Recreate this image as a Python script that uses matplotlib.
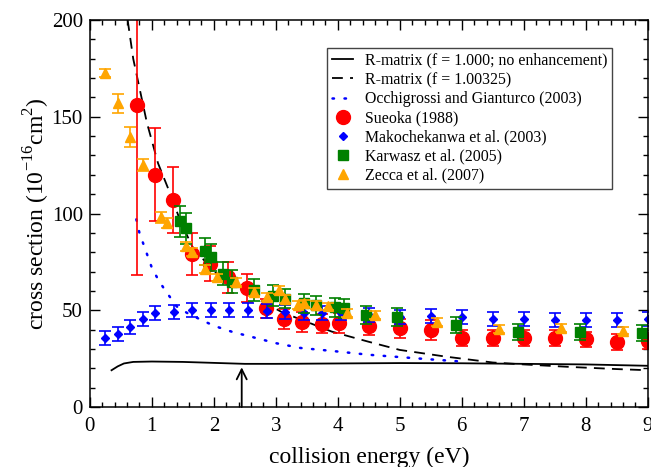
import numpy as np
import matplotlib
matplotlib.use('Agg')
import matplotlib.pyplot as plt
from matplotlib.ticker import MultipleLocator

plt.rcParams['font.family'] = ['Liberation Serif', 'DejaVu Serif']
plt.rcParams['mathtext.fontset'] = 'custom'
plt.rcParams['mathtext.rm'] = 'Liberation Serif'

# R-matrix, f = 1.000 (solid)
rm1_x = [0.35, 0.45, 0.55, 0.7, 1.0, 1.5, 2.0, 2.5, 3.0, 4.0, 5.0, 6.0, 7.0, 8.0, 9.0]
rm1_y = [19.0, 21.0, 22.5, 23.3, 23.5, 23.3, 22.8, 22.3, 22.3, 22.5, 22.7, 22.6, 22.3, 22.0, 21.3]

# R-matrix, f = 1.00325 (dashed)
rm2_x = [0.61, 0.7, 0.8, 0.92, 1.1, 1.3, 1.45, 1.65, 2.0, 2.4, 2.7, 3.1, 3.5, 3.9, 4.5,
         5.0, 5.75, 6.5, 7.0, 7.75, 8.5, 9.0]
rm2_y = [200, 180, 165, 147, 126, 110, 97, 83, 70, 62, 56, 49, 44, 39, 33.7,
         29.5, 26, 23, 22, 20.7, 19.6, 19]

# Occhigrossi and Gianturco (dotted)
og_x = [0.75, 0.8, 0.9, 1.0, 1.1, 1.2, 1.3, 1.4, 1.6, 1.8, 2.0, 2.3, 2.7, 3.0, 3.4,
        3.9, 4.5, 5.0, 5.5, 6.0]
og_y = [97, 90, 81, 72, 66, 61, 56.5, 52, 48, 45, 42, 38.8, 35.5, 33, 30.5,
        29, 27, 25.8, 24.6, 23.5]

# Sueoka (1988)
su_x = [0.76, 1.05, 1.34, 1.64, 1.94, 2.23, 2.53, 2.84, 3.13, 3.43, 3.74, 4.02,
        4.5, 5.0, 5.5, 6.0, 6.5, 7.0, 7.5, 8.0, 8.5, 9.0]
su_y = [156, 120, 107, 79, 74, 67, 61.5, 51, 45.5, 44, 43, 43.5,
        42, 40.7, 39.8, 35.7, 35.7, 35.7, 35.7, 35, 33.7, 34]
su_e = [88, 24, 17, 11, 9, 8, 7, 5, 5, 5, 5, 5,
        5, 5, 5, 4, 4, 4, 4, 4, 4, 4]

# Makochekanwa et al. (2003)
mk_x = [0.25, 0.45, 0.65, 0.85, 1.05, 1.35, 1.65, 1.95, 2.25, 2.55, 2.85, 3.15, 3.45,
        3.75, 4.05, 4.5, 5.0, 5.5, 6.0, 6.5, 7.0, 7.5, 8.0, 8.5, 9.0]
mk_y = [35.7, 37.7, 41.4, 45.5, 48.5, 49, 50, 50, 50, 50, 49.7, 49, 48.5,
        48.5, 48.5, 47.5, 46.5, 47, 46.5, 45.5, 45.5, 45, 45, 45, 45.5]
mk_e = [3.5] * len(mk_x)

# Karwasz et al. (2005)
kw_x = [1.45, 1.55, 1.85, 1.95, 2.15, 2.3, 2.65, 2.95, 3.15, 3.45, 3.65, 3.95, 4.1,
        4.45, 4.95, 5.9, 6.9, 7.9, 8.9]
kw_y = [96, 92.5, 80.5, 77.5, 69, 64.8, 60.5, 57.5, 56, 53.5, 52.5, 51.5, 51,
        47.5, 46.5, 42.5, 38.8, 38.8, 38.2]
kw_e = [8, 8, 7, 7, 6, 6, 5.5, 5.5, 5, 5, 5, 5, 5,
        4.5, 4.5, 4, 4, 4, 4]

# Zecca et al. (2007)
zc_x = [0.25, 0.45, 0.65, 0.85, 1.15, 1.25, 1.55, 1.65, 1.85, 2.05, 2.35, 2.65, 2.85,
        3.05, 3.15, 3.35, 3.45, 3.65, 3.85, 4.15, 4.6, 5.6, 6.6, 7.6, 8.6]
zc_y = [172.6, 157, 139.5, 125, 98, 95, 83, 80, 71.5, 67, 64.6, 59.5, 57,
        60.5, 56, 52.7, 53.5, 52.7, 52, 48.5, 47.5, 44, 40.5, 41, 39.5]
zc_e = [2, 5, 5, 3, 3, 2.5, 2.5, 2, 2, 2, 2, 2, 2,
        2, 2, 2, 2, 2, 2, 2, 2, 2, 2, 2, 2]

arrow_x = 2.45
arrow_top = 20.5

fig = plt.figure(figsize=(6.51, 4.67), dpi=100)
ax = fig.add_axes([0.138, 0.1285, 0.857, 0.8285])

ax.plot(rm1_x, rm1_y, '-', color='black', lw=1.3, label='R-matrix (f = 1.000; no enhancement)')
ax.plot(rm2_x, rm2_y, '--', color='black', lw=1.3, dashes=(6, 4), label='R-matrix (f = 1.00325)')
ax.plot(og_x, og_y, color='blue', lw=1.8, dashes=(0.6, 4.2), dash_capstyle='round',
        label='Occhigrossi and Gianturco (2003)')

ekw = dict(fmt='none', elinewidth=1.2, capthick=1.2, capsize=4.5)
ax.errorbar(su_x, su_y, yerr=su_e, ecolor='red', **ekw)
ax.plot(su_x, su_y, 'o', color='red', ms=10, ls='none', label='Sueoka (1988)')
ax.errorbar(mk_x, mk_y, yerr=mk_e, ecolor='blue', **ekw)
ax.plot(mk_x, mk_y, 'D', color='blue', ms=4.5, ls='none', label='Makochekanwa et al. (2003)')
ax.errorbar(kw_x, kw_y, yerr=kw_e, ecolor='green', **ekw)
ax.plot(kw_x, kw_y, 's', color='green', ms=6.5, ls='none', label='Karwasz et al. (2005)')
ax.errorbar(zc_x, zc_y, yerr=zc_e, ecolor='orange', **ekw)
ax.plot(zc_x, zc_y, '^', color='orange', ms=7, ls='none', label='Zecca et al. (2007)')

ax.annotate('', xy=(arrow_x, arrow_top), xytext=(arrow_x, 0),
            arrowprops=dict(arrowstyle='->', lw=1.3, color='black', mutation_scale=18,
                            shrinkA=0, shrinkB=0))

ax.set_xlim(0, 9)
ax.set_ylim(0, 200)
ax.xaxis.set_major_locator(MultipleLocator(1))
ax.xaxis.set_minor_locator(MultipleLocator(0.2))
ax.yaxis.set_major_locator(MultipleLocator(50))
ax.yaxis.set_minor_locator(MultipleLocator(10))
ax.tick_params(which='both', direction='in', top=True, right=True, labelsize=15, width=1)
ax.tick_params(which='major', length=7)
ax.tick_params(axis='x', which='major', pad=7)
ax.tick_params(axis='y', which='major', pad=5)
ax.tick_params(which='minor', length=3.5)
for s in ax.spines.values():
    s.set_linewidth(1.1)

ax.set_xlabel('collision energy (eV)', fontsize=17, labelpad=8)
ax.set_ylabel(r'cross section (10$^{\mathrm{-16}}$cm$^{\mathrm{2}}$)', fontsize=17, labelpad=0)

leg = ax.legend(loc='upper right', bbox_to_anchor=(0.944, 0.94), fontsize=11.4, numpoints=1,
                handlelength=1.35, fancybox=False, framealpha=1, edgecolor='#444444',
                borderpad=0.3, labelspacing=0.2, handletextpad=0.7, borderaxespad=0.3)
leg.get_frame().set_linewidth(1.0)

plt.savefig('out.png', dpi=100)
